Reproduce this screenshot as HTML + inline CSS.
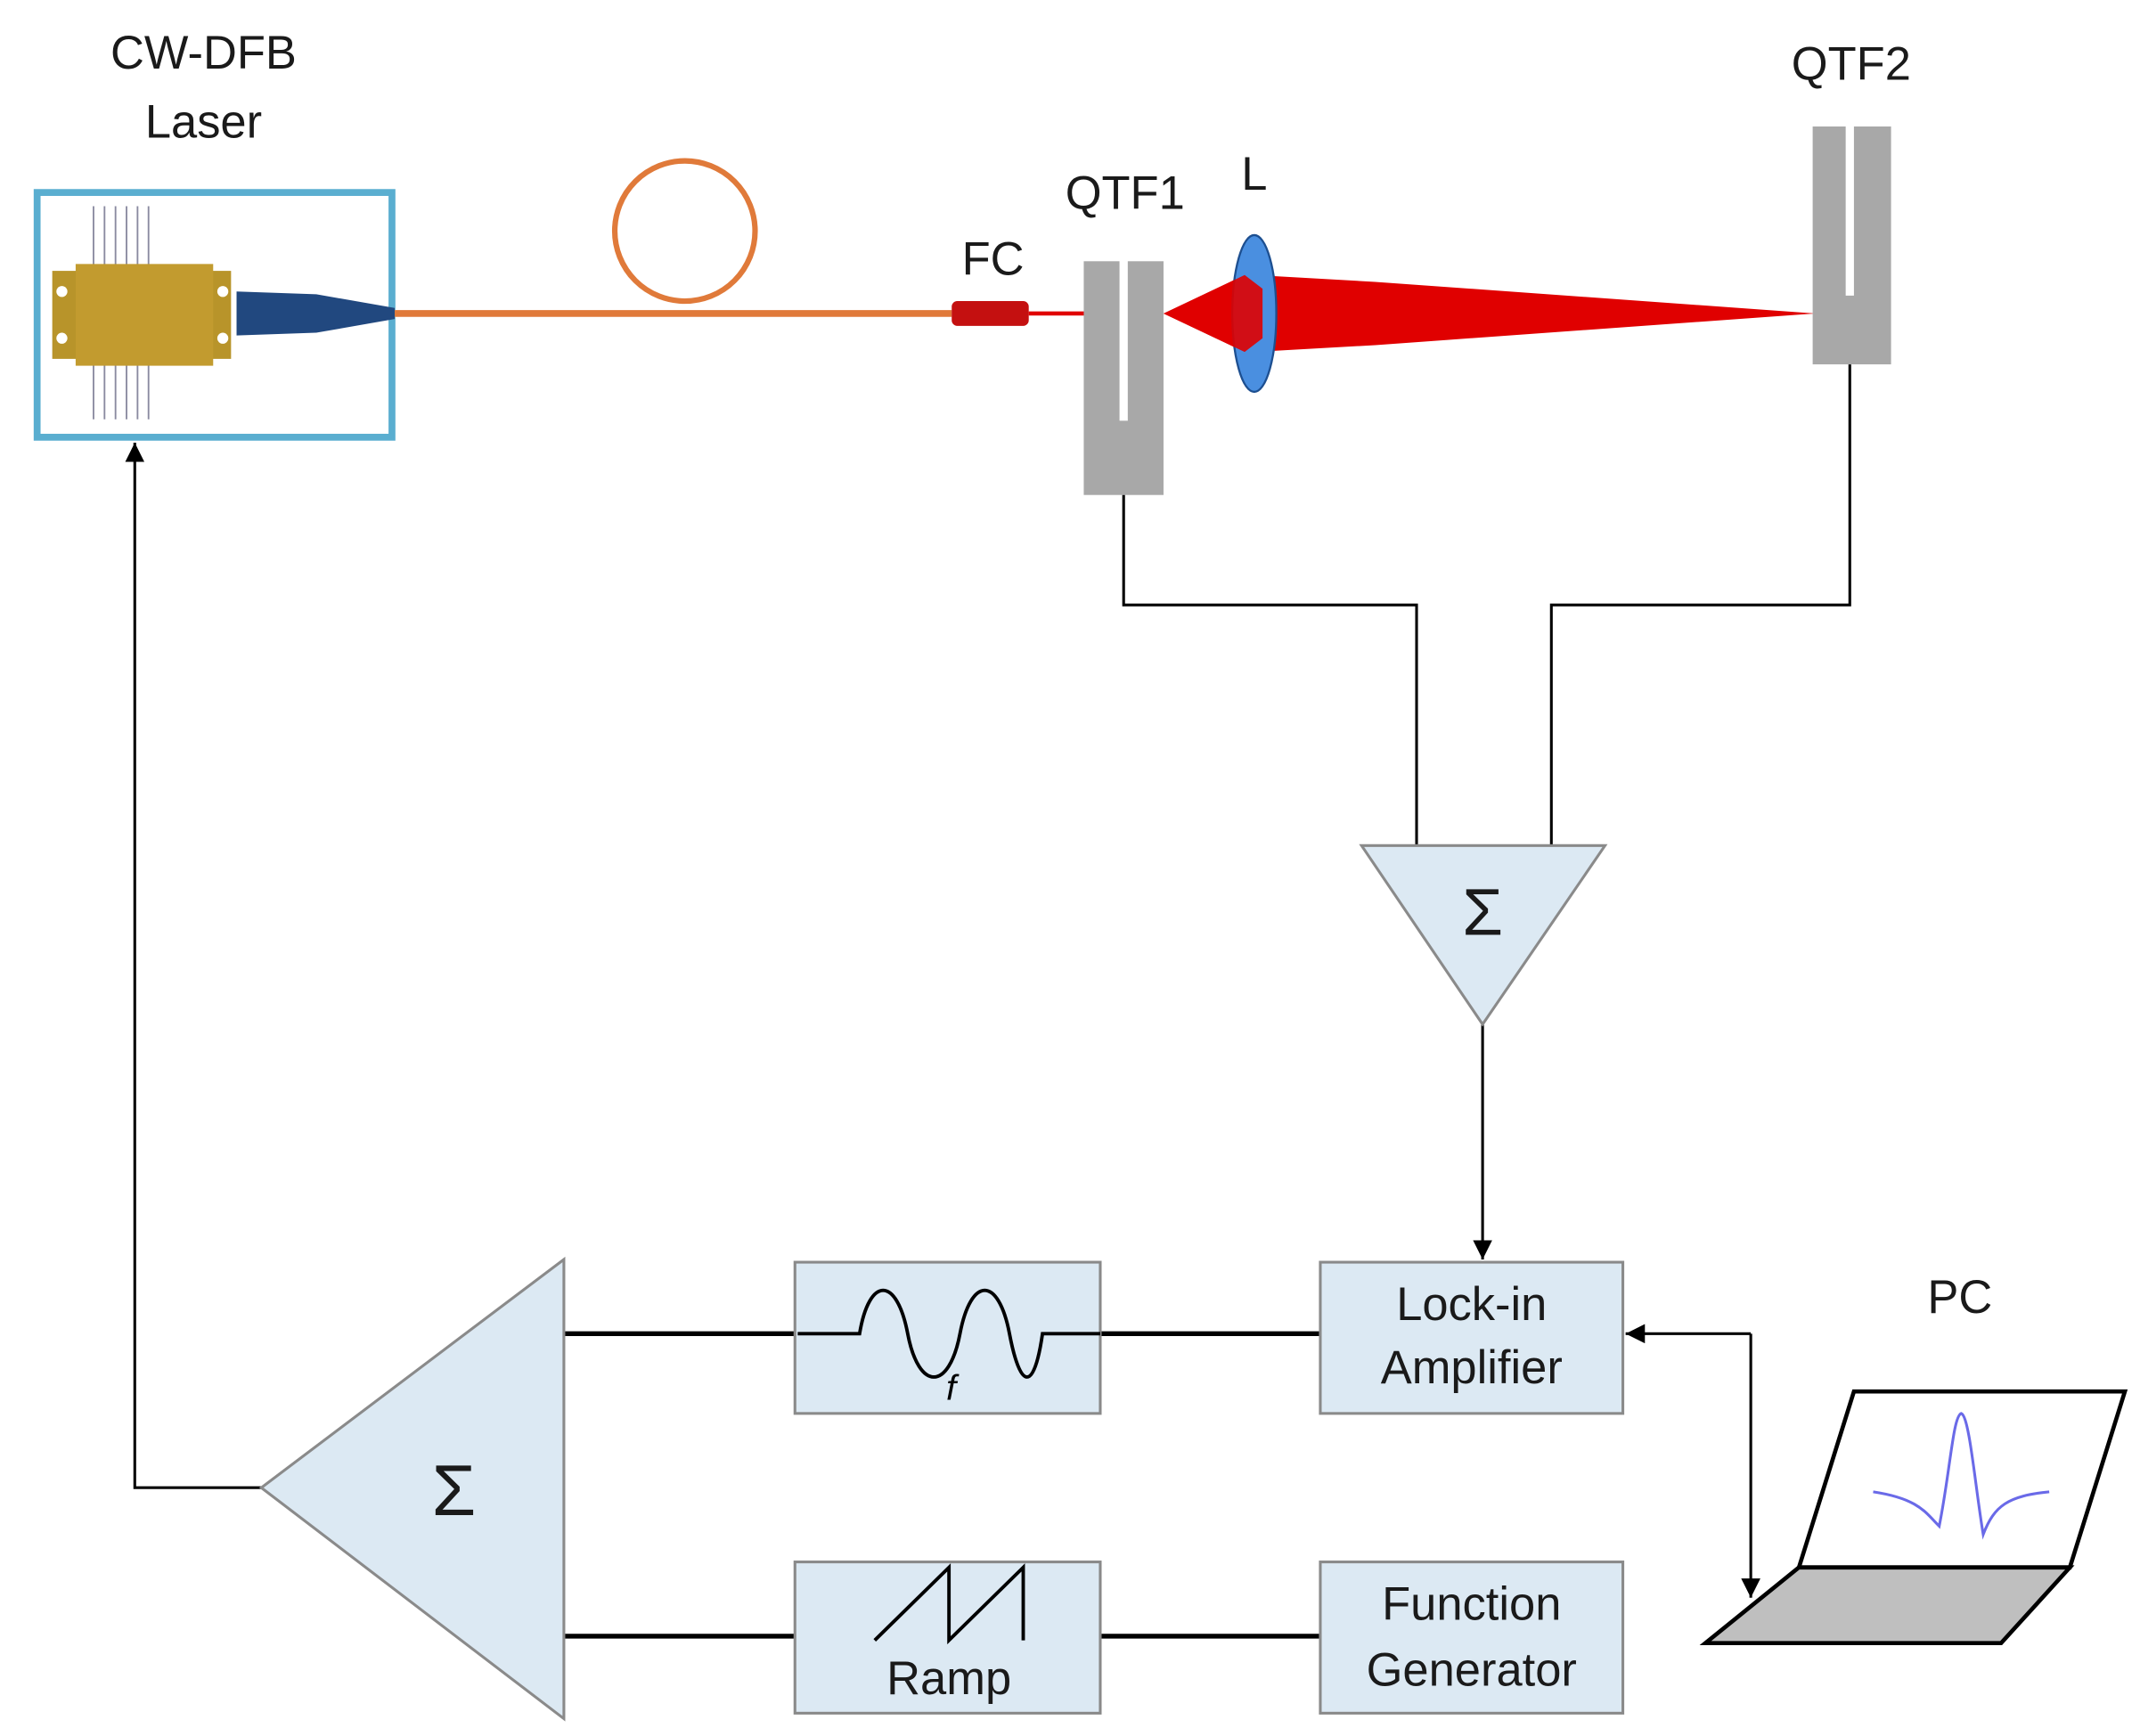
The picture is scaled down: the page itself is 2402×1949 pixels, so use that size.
<!DOCTYPE html>
<html><head><meta charset="utf-8"><style>html,body{margin:0;padding:0;background:#fff}svg{display:block}</style></head>
<body>
<svg width="2402" height="1949" viewBox="0 0 1556 1262.6" preserveAspectRatio="none" xmlns="http://www.w3.org/2000/svg" font-family="'Liberation Sans', Arial, sans-serif">
<defs>
<marker id="ar" viewBox="0 0 10 10" refX="10" refY="5" markerWidth="7" markerHeight="7" orient="auto-start-reverse"><path d="M0,0 L10,5 L0,10 z" fill="#000"/></marker>
</defs>
<rect width="1556" height="1263" fill="#fff"/>
<g font-size="34" fill="#1a1a1a" text-anchor="middle">
<text x="148" y="50">CW-DFB</text>
<text x="148" y="100">Laser</text>
<text x="722" y="200">FC</text>
<text x="818" y="152">QTF1</text>
<text x="912" y="138">L</text>
<text x="1346" y="58">QTF2</text>
<text x="1425" y="955">PC</text>
</g>
<rect x="27" y="140" width="258" height="178" fill="#fff" stroke="#5aaed0" stroke-width="5"/>
<g stroke="#8a8aa0" stroke-width="1.2">
<line x1="68" y1="150" x2="68" y2="305"/><line x1="76" y1="150" x2="76" y2="305"/><line x1="84" y1="150" x2="84" y2="305"/><line x1="92" y1="150" x2="92" y2="305"/><line x1="100" y1="150" x2="100" y2="305"/><line x1="108" y1="150" x2="108" y2="305"/>
</g>
<rect x="38" y="197" width="130" height="64" fill="#b8942a"/>
<rect x="55" y="192" width="100" height="74" fill="#c29b2f"/>
<circle cx="45" cy="212" r="4" fill="#fff"/><circle cx="45" cy="246" r="4" fill="#fff"/>
<circle cx="162" cy="212" r="4" fill="#fff"/><circle cx="162" cy="246" r="4" fill="#fff"/>
<path d="M172,212 L230,214 L287,224 L287,232 L230,242 L172,244 z" fill="#21487f"/>
<line x1="287" y1="228" x2="692" y2="228" stroke="#e07a3a" stroke-width="5"/>
<circle cx="498" cy="168" r="51" fill="none" stroke="#e07a3a" stroke-width="4"/>
<rect x="692" y="219" width="56" height="18" rx="4" fill="#c41010"/>
<line x1="748" y1="228" x2="830" y2="228" stroke="#e00000" stroke-width="3"/>
<rect x="788" y="190" width="58" height="170" fill="#a8a8a8"/>
<rect x="814" y="188" width="6" height="118" fill="#fff"/>
<path d="M846,228 L905,200 L912,200 L1000,205 L1320,228 L1000,251 L912,256 L905,256 z" fill="#e00000"/>
<ellipse cx="912" cy="228" rx="16" ry="57" fill="#4a8fe0" stroke="#1d4f90" stroke-width="1.5"/>
<path d="M905,200 L918,210 L918,246 L905,256 L846,228 z" fill="#e00000" opacity="0.9"/>
<rect x="1318" y="92" width="57" height="173" fill="#a8a8a8"/>
<rect x="1342" y="90" width="6" height="125" fill="#fff"/>
<g fill="none" stroke="#000" stroke-width="2">
<polyline points="817,360 817,440 1030,440 1030,615"/>
<polyline points="1345,265 1345,440 1128,440 1128,615"/>
<line x1="1078" y1="745" x2="1078" y2="916" marker-end="url(#ar)"/>
<polyline points="190,1082 98,1082 98,322" marker-end="url(#ar)"/>
<line x1="1182" y1="970" x2="1273" y2="970" marker-start="url(#ar)"/>
<line x1="1273" y1="970" x2="1273" y2="1162" marker-end="url(#ar)"/>
</g>
<g stroke="#000" stroke-width="3.5">
<line x1="410" y1="970" x2="578" y2="970"/><line x1="800" y1="970" x2="960" y2="970"/>
<line x1="410" y1="1190" x2="578" y2="1190"/><line x1="800" y1="1190" x2="960" y2="1190"/>
</g>
<polygon points="990,615 1167,615 1078,745" fill="#dce9f3" stroke="#8a8a8a" stroke-width="2"/>
<text x="1078" y="680" font-size="48" text-anchor="middle" fill="#1a1a1a">Σ</text>
<polygon points="410,916 410,1250 190,1082" fill="#dce9f3" stroke="#8a8a8a" stroke-width="2"/>
<text x="330" y="1102" font-size="52" text-anchor="middle" fill="#1a1a1a">Σ</text>
<g fill="#dce9f3" stroke="#8a8a8a" stroke-width="2">
<rect x="578" y="918" width="222" height="110"/>
<rect x="960" y="918" width="220" height="110"/>
<rect x="578" y="1136" width="222" height="110"/>
<rect x="960" y="1136" width="220" height="110"/>
</g>
<path d="M580,970 L625,970 C632,928 652,928 660,970 C668,1012 690,1012 698,970 C706,928 726,928 734,970 C742,1012 752,1012 758,970 L800,970" fill="none" stroke="#000" stroke-width="2.5"/>
<text x="688" y="1018" font-size="26" font-style="italic" fill="#000">f</text>
<path d="M636,1193 L690,1140 L690,1193 L744,1140 L744,1193" fill="none" stroke="#000" stroke-width="2.5"/>
<g font-size="34" fill="#1a1a1a" text-anchor="middle">
<text x="690" y="1232">Ramp</text>
<text x="1070" y="960">Lock-in</text>
<text x="1070" y="1006">Amplifier</text>
<text x="1070" y="1178">Function</text>
<text x="1070" y="1226">Generator</text>
</g>
<polygon points="1348,1012 1545,1012 1505,1140 1308,1140" fill="#fff" stroke="#000" stroke-width="3"/>
<polygon points="1308,1140 1505,1140 1455,1195 1240,1195" fill="#bfbfbf" stroke="#000" stroke-width="3"/>
<path d="M1362,1085 C1395,1090 1400,1100 1410,1110 C1418,1070 1420,1030 1426,1028 C1432,1030 1436,1080 1442,1116 C1450,1095 1460,1088 1490,1085" fill="none" stroke="#6a6ae8" stroke-width="2"/>
</svg>
</body></html>
